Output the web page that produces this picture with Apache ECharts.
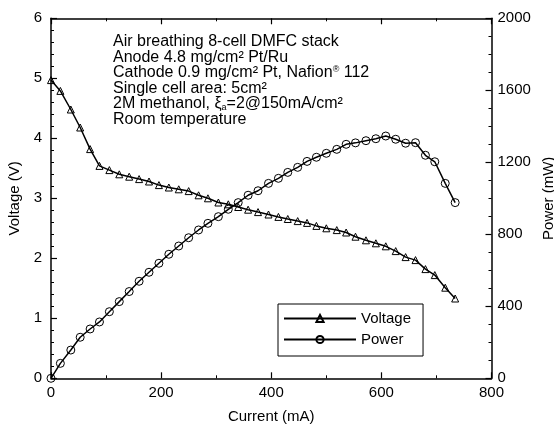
<!DOCTYPE html>
<html>
<head>
<meta charset="utf-8">
<script src="https://cdn.jsdelivr.net/npm/echarts@6/dist/echarts.min.js"></script>
<style>
  html, body { margin: 0; padding: 0; background: #fff; }
  #chart { width: 554px; height: 428px; }
</style>
</head>
<body>
<div id="chart"></div>
<script>
// Stack current (mA) at each measured point
const current = [0, 17, 36, 53, 71, 88, 106, 124, 142, 160, 178, 196, 214, 232, 250, 268, 285,
  304, 322, 340, 358, 376, 395, 413, 430, 448, 465, 482, 500, 519, 536, 553, 572, 590, 608,
  626, 644, 662, 680, 697, 716, 734];
// Stack voltage (V)
const voltage = [4.97, 4.79, 4.48, 4.18, 3.82, 3.54, 3.47, 3.40, 3.36, 3.32, 3.28, 3.22, 3.18,
  3.15, 3.12, 3.05, 3.00, 2.93, 2.90, 2.855, 2.81, 2.77, 2.73, 2.69, 2.655, 2.62, 2.59, 2.54,
  2.50, 2.47, 2.43, 2.36, 2.30, 2.25, 2.20, 2.12, 2.02, 1.97, 1.82, 1.72, 1.51, 1.33];
// Stack power (mW)
const power = [0, 83, 157, 228, 274, 313, 370, 426, 482, 539, 589, 639, 689, 735, 781, 824, 861,
  898, 939, 976, 1017, 1042, 1083, 1111, 1144, 1172, 1205, 1228, 1250, 1272, 1300, 1308, 1320,
  1331, 1346, 1328, 1306, 1309, 1239, 1203, 1083, 976];

const xTicks = { min: 0, max: 800, interval: 200 };
const vTicks = { min: 0, max: 6, interval: 1 };
const pTicks = { min: 0, max: 2000, interval: 400 };

const FONT = 'Liberation Sans, Arial, Helvetica, sans-serif';
const INK = '#000';

const pairs = (xs, ys) => xs.map((x, i) => [x, ys[i]]);
const plain = v => String(v);

const boxAxis = {
  axisLine: { show: true, onZero: false, lineStyle: { color: INK, width: 1.5 } },
  axisTick: { show: true, inside: true, length: 6, lineStyle: { color: INK, width: 1.2 } },
  minorTick: { show: true, length: 3, lineStyle: { color: INK, width: 1 } },
  splitLine: { show: false },
  minorSplitLine: { show: false }
};

const chart = echarts.init(document.getElementById('chart'), null, { renderer: 'canvas' });

chart.setOption({
  backgroundColor: '#fff',
  animation: false,
  textStyle: { fontFamily: FONT, color: INK },
  grid: {
    left: 51, right: 62.5, top: 18.3, bottom: 49.7,
    containLabel: false, outerBoundsMode: 'none'
  },
  xAxis: [
    Object.assign({}, boxAxis, {
      type: 'value', position: 'bottom',
      min: xTicks.min, max: xTicks.max, interval: xTicks.interval,
      minorTick: Object.assign({}, boxAxis.minorTick, { splitNumber: 2 }),
      axisLabel: { color: INK, fontSize: 15, fontFamily: FONT, margin: 7, formatter: plain },
      name: 'Current (mA)', nameLocation: 'middle', nameGap: 31,
      nameTextStyle: { color: INK, fontSize: 15, fontFamily: FONT }
    }),
    Object.assign({}, boxAxis, {
      type: 'value', position: 'top',
      min: xTicks.min, max: xTicks.max, interval: xTicks.interval,
      minorTick: Object.assign({}, boxAxis.minorTick, { splitNumber: 2 }),
      axisLabel: { show: false }
    })
  ],
  yAxis: [
    Object.assign({}, boxAxis, {
      type: 'value', position: 'left',
      min: vTicks.min, max: vTicks.max, interval: vTicks.interval,
      minorTick: Object.assign({}, boxAxis.minorTick, { splitNumber: 5 }),
      axisLabel: { color: INK, fontSize: 15, fontFamily: FONT, margin: 9, formatter: plain },
      name: 'Voltage (V)', nameLocation: 'middle', nameGap: 20, nameRotate: 90,
      nameTextStyle: { color: INK, fontSize: 15, fontFamily: FONT }
    }),
    Object.assign({}, boxAxis, {
      type: 'value', position: 'right',
      min: pTicks.min, max: pTicks.max, interval: pTicks.interval,
      minorTick: Object.assign({}, boxAxis.minorTick, { splitNumber: 4 }),
      axisLabel: { color: INK, fontSize: 15, fontFamily: FONT, margin: 6, formatter: plain },
      name: 'Power (mW)', nameLocation: 'middle', nameGap: 48, nameRotate: 90,
      nameTextStyle: { color: INK, fontSize: 15, fontFamily: FONT }
    })
  ],
  legend: {
    orient: 'vertical',
    left: 278, top: 304,
    padding: [7, 12, 9, 5],
    itemGap: 6,
    itemWidth: 72, itemHeight: 9,
    backgroundColor: '#fff',
    borderColor: INK, borderWidth: 1,
    textStyle: { color: INK, fontSize: 15, fontFamily: FONT },
    data: ['Voltage', 'Power']
  },
  graphic: [{
    type: 'text',
    left: 113, top: 34,
    style: {
      text: [
        'Air breathing 8-cell DMFC stack',
        'Anode 4.8 mg/cm² Pt/Ru',
        'Cathode 0.9 mg/cm² Pt, Nafion{sup|®} 112',
        'Single cell area: 5cm²',
        '2M methanol, ξ{sub|a}=2@150mA/cm²',
        'Room temperature'
      ].join('\n'),
      fontFamily: FONT, fontSize: 16, lineHeight: 15.5, fill: INK,
      rich: {
        sup: { fontSize: 9, fontFamily: FONT, fill: INK, verticalAlign: 'top', lineHeight: 15.5 },
        sub: { fontSize: 9, fontFamily: FONT, fill: INK, verticalAlign: 'bottom', lineHeight: 15.5 }
      }
    }
  }],
  series: [
    {
      name: 'Voltage', type: 'line',
      xAxisIndex: 0, yAxisIndex: 0,
      data: pairs(current, voltage),
      symbol: 'triangle', symbolSize: 7,
      lineStyle: { color: INK, width: 1.5 },
      itemStyle: { color: 'rgba(0,0,0,0)', borderColor: INK, borderWidth: 1 }
    },
    {
      name: 'Power', type: 'line',
      xAxisIndex: 0, yAxisIndex: 1,
      data: pairs(current, power),
      symbol: 'circle', symbolSize: 8,
      lineStyle: { color: INK, width: 1.5 },
      itemStyle: { color: 'rgba(0,0,0,0)', borderColor: INK, borderWidth: 1 }
    }
  ]
});
</script>
</body>
</html>
